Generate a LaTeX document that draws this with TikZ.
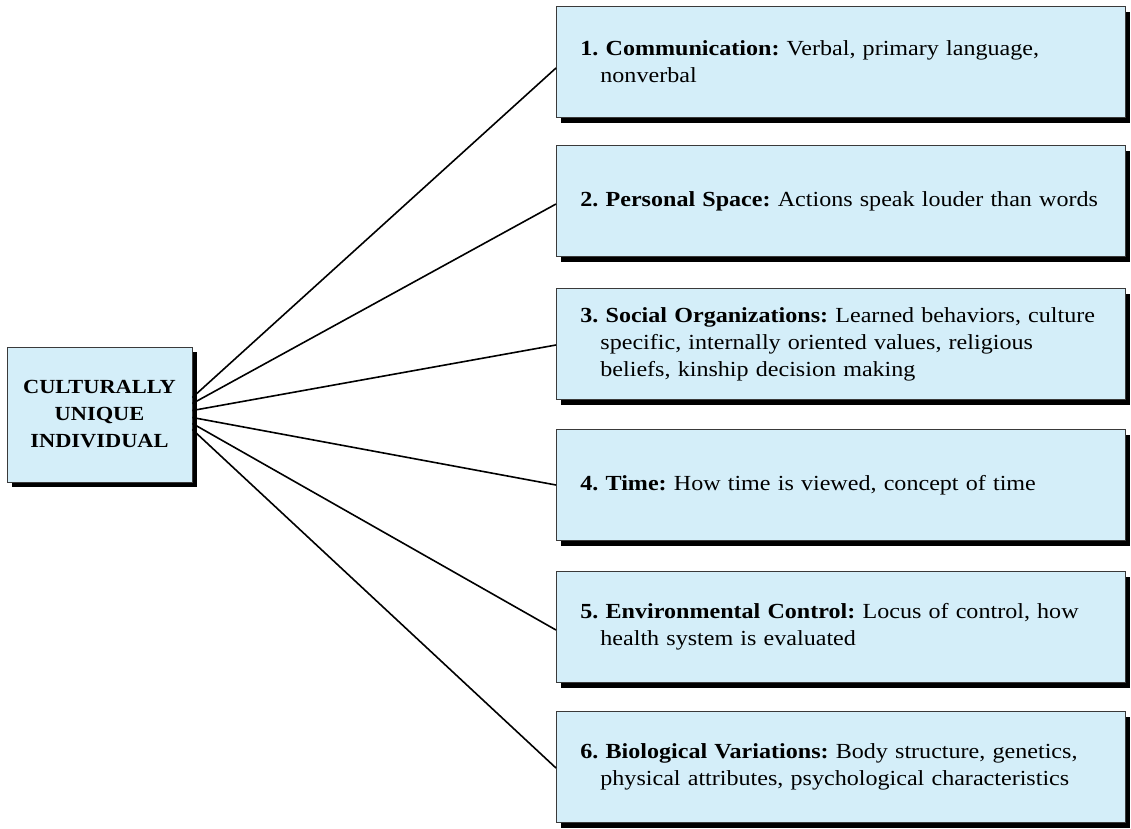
\documentclass[tikz,border=0pt]{standalone}
\usepackage{fontspec}
\setmainfont{Liberation Serif}[FakeStretch=1.12]
\usetikzlibrary{shadows}
\definecolor{boxfill}{HTML}{D4EEF9}
\definecolor{boxline}{HTML}{3A3A3A}
\tikzset{
  shadowbox/.style={draw=boxline, line width=0.8pt, fill=boxfill,
    drop shadow={shadow xshift=5pt, shadow yshift=-5pt, fill=black, opacity=1}},
  itembox/.style={shadowbox, rectangle, minimum width=569pt, minimum height=111pt,
    text width=521pt, inner xsep=0pt, align=left, anchor=west,
    font=\fontsize{21.5}{27}\selectfont\frenchspacing, inner ysep=0pt},
  centerbox/.style={shadowbox, rectangle, minimum width=185pt, minimum height=135pt,
    align=center, font=\fontsize{20}{27}\selectfont\bfseries},
  link/.style={draw=black, line width=1.6pt}
}
\newcommand{\ind}{\hspace*{20pt}}
\begin{document}
\begin{tikzpicture}[x=1pt,y=-1pt]
\useasboundingbox (0,0) rectangle (1131,828);
\node[centerbox] (c) at (99.5,414.5) {CULTURALLY\\UNIQUE\\INDIVIDUAL};
\node[itembox] (b1) at (556,62) {\textbf{1. Communication:} Verbal, primary language,\\\ind nonverbal};
\node[itembox] (b2) at (556,201) {\textbf{2. Personal Space:} Actions speak louder than words};
\node[itembox] (b3) at (556,344) {\textbf{3. Social Organizations:} Learned behaviors, culture\\\ind specific, internally oriented values, religious\\\ind beliefs, kinship decision making};
\node[itembox] (b4) at (556,485) {\textbf{4. Time:} How time is viewed, concept of time};
\node[itembox] (b5) at (556,627) {\textbf{5. Environmental Control:} Locus of control, how\\\ind health system is evaluated};
\node[itembox] (b6) at (556,767) {\textbf{6. Biological Variations:} Body structure, genetics,\\\ind physical attributes, psychological characteristics};
\draw[link] ([yshift=17pt]c.east) -- ([yshift=-6pt]b1.west);
\draw[link] ([yshift=11pt]c.east) -- ([yshift=-3pt]b2.west);
\draw[link] ([yshift=4pt]c.east) -- ([yshift=-1pt]b3.west);
\draw[link] ([yshift=-3pt]c.east) -- ([yshift=0pt]b4.west);
\draw[link] ([yshift=-9pt]c.east) -- ([yshift=-3pt]b5.west);
\draw[link] ([yshift=-15pt]c.east) -- ([yshift=-1pt]b6.west);
\end{tikzpicture}
\end{document}
